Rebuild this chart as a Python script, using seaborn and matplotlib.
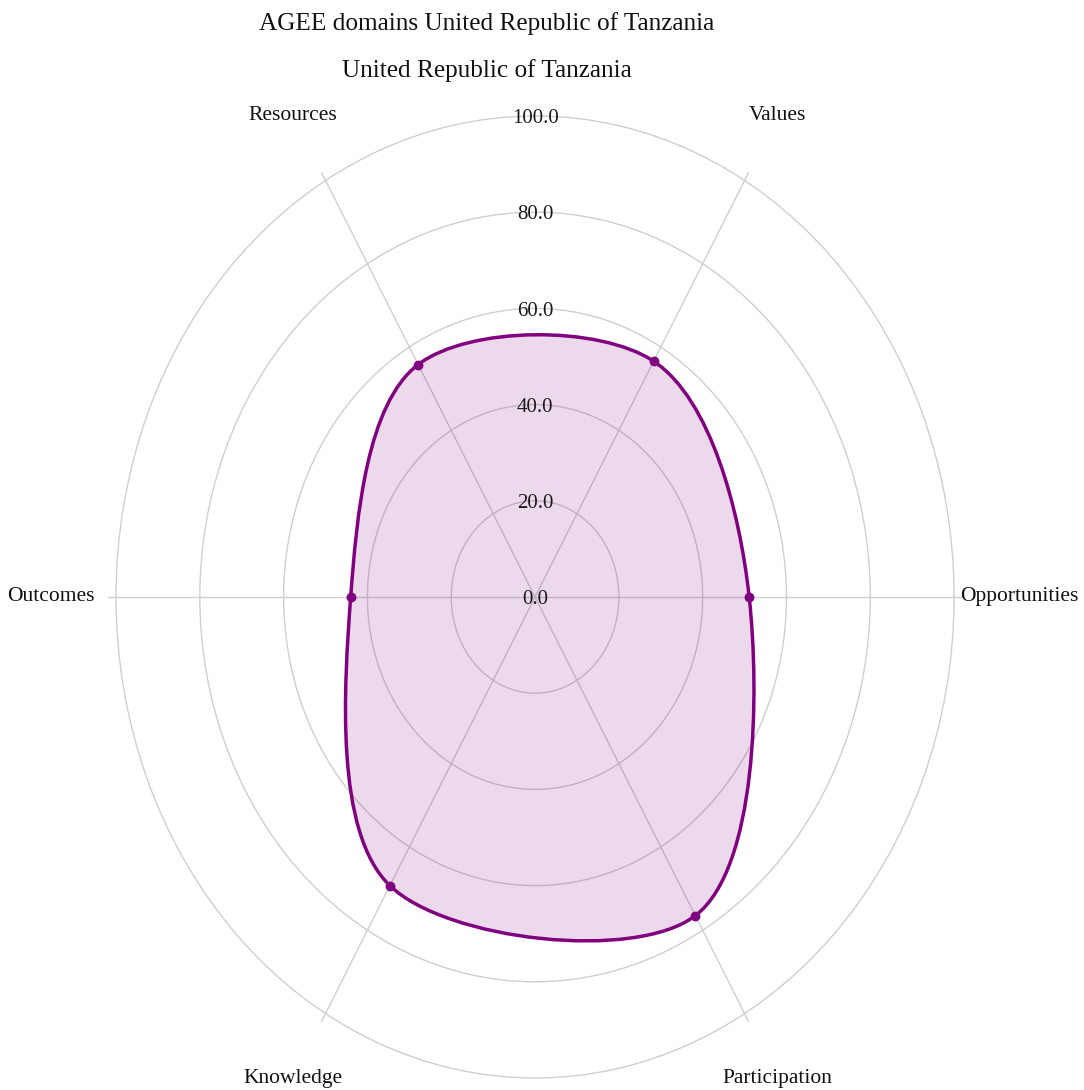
import numpy as np
import pandas as pd
import matplotlib
matplotlib.use("Agg")
import matplotlib.pyplot as plt
import seaborn as sns
from matplotlib.path import Path
from matplotlib.patches import PathPatch

# данные радара
domains = ["Opportunities", "Values", "Resources", "Outcomes", "Knowledge", "Participation"]
scores = [51.1, 56.6, 55.8, 44.0, 69.3, 76.5]
ring_ticks = [0, 20, 40, 60, 80, 100]

title_line1 = "AGEE domains United Republic of Tanzania"
title_line2 = "United Republic of Tanzania"

PURPLE = "#800080"
GRID = "#cfcfcf"

sns.set_style("white")
plt.rcParams["font.family"] = ["Liberation Serif", "DejaVu Serif"]
plt.rcParams["text.color"] = "#111111"


def make_tangent(prev, cur, nxt, smooth=1.0):
    # касательные как у сглаженной кривой plotly (catmull-rom)
    d1 = prev - cur
    d2 = nxt - cur
    d1a = np.hypot(*d1) ** 0.5
    d2a = np.hypot(*d2) ** 0.5
    num = (d2a * d2a * d1 - d1a * d1a * d2) * smooth
    den1 = 3 * d2a * (d1a + d2a)
    den2 = 3 * d1a * (d1a + d2a)
    return cur + num / den1, cur - num / den2


def closed_spline(theta, r, sx, sy):
    # строим замкнутый путь из кубических кривых в «экранных» координатах
    pts = np.column_stack([r * np.cos(theta) * sx, r * np.sin(theta) * sy])
    n = len(pts)
    tang = [make_tangent(pts[i - 1], pts[i], pts[(i + 1) % n]) for i in range(n)]
    verts = [pts[0]]
    codes = [Path.MOVETO]
    for i in range(n):
        j = (i + 1) % n
        verts += [tang[i][1], tang[j][0], pts[j]]
        codes += [Path.CURVE4] * 3
    verts = np.array(verts)
    ux, uy = verts[:, 0] / sx, verts[:, 1] / sy
    polar = np.column_stack([np.arctan2(uy, ux), np.hypot(ux, uy)])
    return Path(polar, codes)


df = pd.DataFrame({"domain": domains, "score": scores})
df["theta"] = np.deg2rad(np.arange(len(df)) * 360 / len(df))

fig = plt.figure(figsize=(10.84, 10.9), dpi=100)
ax = fig.add_axes([0.0993, 0.0022, 0.7886, 0.9002], projection="polar")
ax.set_aspect("auto")
ax.set_ylim(0, 102)
ax.set_axisbelow(True)

ax.set_xticks(df["theta"])
ax.set_xticklabels([])
ax.set_yticks(ring_ticks[1:])
ax.set_yticklabels([])
ax.grid(True, color=GRID, linewidth=1.0)
ax.spines["polar"].set_visible(False)
ax.tick_params(length=0)

path = closed_spline(df["theta"].to_numpy(), df["score"].to_numpy(), 4.19, 4.81)
ax.add_patch(PathPatch(path, facecolor=PURPLE, alpha=0.15, edgecolor="none", zorder=2))
ax.add_patch(PathPatch(path, facecolor="none", edgecolor=PURPLE, linewidth=2.5, zorder=3))
sns.scatterplot(data=df, x="theta", y="score", ax=ax, color=PURPLE, s=50,
                edgecolor=PURPLE, linewidth=0, zorder=4, legend=False)
ax.set_xlabel("")
ax.set_ylabel("")

# подписи колец по вертикали
for t in ring_ticks:
    ax.annotate(f"{t:.1f}", xy=(np.pi / 2, t), xytext=(0, -2), textcoords="offset points",
                ha="center", va="center", fontsize=15, color="#1a1a1a",
                zorder=5, annotation_clip=False)

# подписи осей
for th, name in zip(df["theta"], df["domain"]):
    ax.text(th, 115.5, name, ha="center", va="center", fontsize=15.5,
            color="#111111", clip_on=False)

fig.text(487 / 1084, 1 - 30 / 1090, title_line1, ha="center", va="baseline",
         fontsize=18.2, color="#111111")
fig.text(487 / 1084, 1 - 77 / 1090, title_line2, ha="center", va="baseline",
         fontsize=18.2, color="#111111")

fig.savefig("out.png", dpi=100)
